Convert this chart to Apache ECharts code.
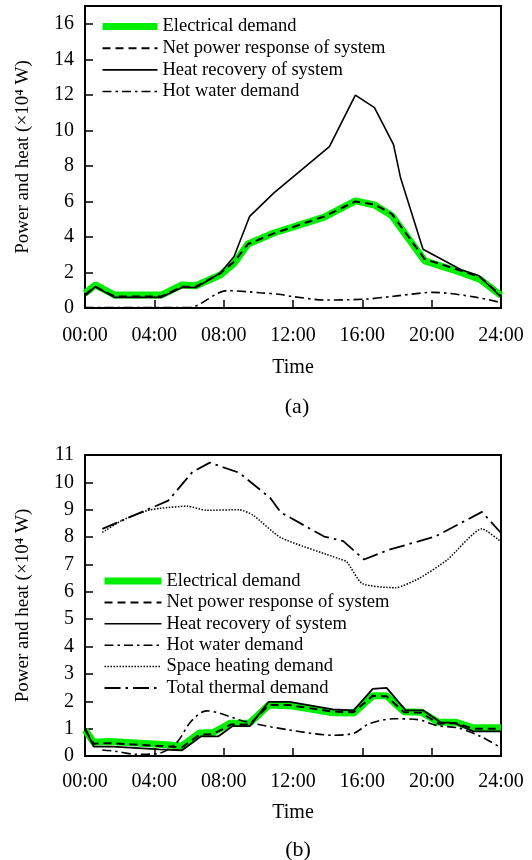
<!DOCTYPE html>
<html>
<head>
<meta charset="utf-8">
<script src="https://cdn.jsdelivr.net/npm/echarts@6/dist/echarts.min.js"></script>
<style>
  html, body { margin: 0; padding: 0; background: #fff; }
  #main { width: 532px; height: 860px; }
</style>
</head>
<body>
<div id="main"></div>
<script>
// tick labels shared by both panels
var timeLabels = ['00:00', '04:00', '08:00', '12:00', '16:00', '20:00', '24:00'];

// panel (a), [hour, x10^4 W]
var aElectrical = [[0, 0.83], [0.6, 1.3], [1.7, 0.73], [4.4, 0.73], [5.6, 1.3], [6.4, 1.25], [7.8, 1.86], [8.6, 2.5], [9.4, 3.6], [10.9, 4.22], [13.8, 5.12], [15.6, 6.03], [16.7, 5.8], [17.7, 5.2], [19.6, 2.65], [21.7, 2.0], [22.8, 1.6], [24, 0.7]];
var aNetPower = [[0, 0.75], [0.6, 1.2], [1.7, 0.65], [4.4, 0.65], [5.6, 1.2], [6.4, 1.2], [7.8, 1.95], [8.6, 2.6], [9.4, 3.6], [10.9, 4.2], [13.8, 5.15], [15.6, 6.0], [16.7, 5.82], [17.7, 5.3], [19.6, 2.75], [21.7, 2.1], [22.8, 1.75], [24, 0.68]];
var aHeatRecovery = [[0, 0.68], [0.6, 1.2], [1.7, 0.6], [4.4, 0.6], [5.6, 1.15], [6.4, 1.15], [7.8, 1.96], [8.6, 2.9], [9.5, 5.16], [10.9, 6.48], [14.1, 9.08], [15.6, 11.98], [16.7, 11.28], [17.8, 9.2], [18.2, 7.35], [19.5, 3.31], [21.7, 2.15], [22.7, 1.83], [24, 0.62]];
var aHotWater = [[0, 0.03], [6.0, 0.03], [8.2, 0.98], [10.1, 0.86], [11.3, 0.76], [12.0, 0.64], [13.9, 0.45], [16.2, 0.5], [17.8, 0.66], [20.1, 0.88], [22.6, 0.6], [24, 0.3]];

// panel (b)
var bElectrical = [[0, 0.95], [0.5, 0.5], [1.4, 0.53], [4.5, 0.42], [5.6, 0.37], [6.6, 0.84], [7.4, 0.86], [8.4, 1.2], [9.5, 1.2], [10.6, 1.86], [11.8, 1.84], [14.3, 1.58], [15.5, 1.57], [16.6, 2.2], [17.4, 2.2], [18.4, 1.62], [19.4, 1.6], [20.4, 1.23], [21.4, 1.23], [22.4, 1.03], [24, 1.03]];
var bNetPower = [[0, 0.95], [0.5, 0.45], [1.4, 0.47], [4.5, 0.36], [5.6, 0.32], [6.6, 0.78], [7.4, 0.8], [8.4, 1.15], [9.5, 1.15], [10.6, 1.86], [11.8, 1.86], [14.3, 1.62], [15.5, 1.6], [16.6, 2.2], [17.4, 2.18], [18.4, 1.6], [19.4, 1.58], [20.4, 1.18], [21.4, 1.2], [22.4, 1.0], [24, 1.0]];
var bHeatRecovery = [[0, 1.03], [0.5, 0.34], [1.6, 0.34], [4.3, 0.24], [5.6, 0.21], [6.7, 0.72], [7.7, 0.72], [8.5, 1.09], [9.5, 1.09], [10.6, 1.98], [11.8, 1.98], [14.3, 1.7], [15.5, 1.67], [16.6, 2.45], [17.4, 2.49], [18.5, 1.67], [19.5, 1.67], [20.5, 1.23], [21.3, 1.21], [22.4, 0.9], [24, 0.9]];
var bHotWater = [[1.0, 0.22], [1.7, 0.18], [3.0, 0.06], [4.3, 0.1], [5.3, 0.5], [6.1, 1.25], [7.0, 1.65], [9.3, 1.25], [11.8, 0.95], [14.3, 0.76], [15.5, 0.83], [16.4, 1.18], [17.8, 1.36], [19.2, 1.33], [20.3, 1.11], [21.5, 1.03], [22.8, 0.72], [24, 0.3]];
var bSpaceHeating = [[1.0, 8.17], [2.2, 8.63], [3.6, 8.97], [4.3, 9.05], [5.9, 9.13], [7.0, 8.98], [8.9, 9.0], [9.7, 8.8], [11.3, 7.98], [14.7, 7.2], [15.1, 7.1], [16.0, 6.3], [17.9, 6.15], [19.3, 6.5], [20.9, 7.17], [22.9, 8.3], [24, 7.83]];
var bTotalThermal = [[1.0, 8.3], [4.8, 9.33], [6.2, 10.38], [7.2, 10.72], [8.9, 10.35], [10.7, 9.42], [11.3, 8.9], [13.8, 8.02], [14.9, 7.85], [16.1, 7.18], [17.5, 7.53], [20.2, 8.02], [22.9, 8.92], [24, 8.15]];

var FONT = '"Liberation Serif", "Times New Roman", serif';
var GREEN = '#00ee00';
var yName = 'Power and heat (×10\u2074 W)';

var chart = echarts.init(document.getElementById('main'));

function xAxis(gi, margin, gap) {
  return {
    type: 'value', gridIndex: gi, min: 0, max: 24, interval: 4,
    name: 'Time', nameLocation: 'middle', nameGap: gap,
    nameTextStyle: { fontFamily: FONT, fontSize: 20, color: '#000' },
    axisLine: { lineStyle: { color: '#000', width: 2 } },
    axisTick: { inside: true, length: 8, lineStyle: { color: '#000', width: 1.5 } },
    axisLabel: {
      margin: margin, fontFamily: FONT, fontSize: 20, color: '#000',
      formatter: function (v) { return timeLabels[v / 4]; }
    },
    splitLine: { show: false }
  };
}

function yAxis(gi, max, step) {
  return {
    type: 'value', gridIndex: gi, min: 0, max: max, interval: step,
    name: yName, nameLocation: 'middle', nameGap: 52,
    nameTextStyle: { fontFamily: FONT, fontSize: 19, color: '#000' },
    axisLine: { lineStyle: { color: '#000', width: 2 } },
    axisTick: { inside: true, length: 8, lineStyle: { color: '#000', width: 1.5 } },
    axisLabel: { margin: 11, fontFamily: FONT, fontSize: 20, color: '#000', showMaxLabel: max % step === 0 },
    splitLine: { show: false }
  };
}

function line(name, data, gi, color, width, type, smooth, z) {
  return {
    name: name, type: 'line', xAxisIndex: gi, yAxisIndex: gi,
    data: data, symbol: 'none', smooth: smooth || false, z: z || 3,
    itemStyle: { color: color },
    lineStyle: { color: color, width: width, type: type },
    emphasis: { disabled: true }
  };
}

function legend(top, left, names, width, gap) {
  return {
    orient: 'vertical', top: top, left: left, padding: 0,
    itemWidth: width, itemHeight: 14, itemGap: gap,
    data: names, selectedMode: false,
    itemStyle: { opacity: 0 },
    lineStyle: { width: 'inherit' },
    textStyle: { fontFamily: FONT, fontSize: 18.5, lineHeight: 20, color: '#000' }
  };
}

var dashNet = [8, 5];
var dashWater = [9, 4, 2.5, 4];
var dashTotal = [16, 5, 2.5, 5];
var dotSpace = [1.5, 1.5];

chart.setOption({
  animation: false,
  backgroundColor: '#fff',
  grid: [
    { left: 85, top: 6, width: 416, height: 302, show: true, borderColor: '#000', borderWidth: 2 },
    { left: 85, top: 455, width: 416, height: 301, show: true, borderColor: '#000', borderWidth: 2 }
  ],
  xAxis: [xAxis(0, 18, 50), xAxis(1, 16, 47)],
  yAxis: [yAxis(0, 17, 2), yAxis(1, 11, 1)],
  legend: [
    legend(16.5, 99, ['Electrical demand', 'Net power response of system', 'Heat recovery of system', 'Hot water demand'], 55, 1.67),
    legend(571, 101, ['Electrical demand', 'Net power response of system', 'Heat recovery of system', 'Hot water demand', 'Space heating demand', 'Total thermal demand'], 57, 1.4)
  ],
  graphic: [
    { type: 'text', x: 297, y: 407, style: { text: '(a)', font: '22px ' + FONT, fill: '#000', textAlign: 'center', textVerticalAlign: 'middle' } },
    { type: 'text', x: 298, y: 850, style: { text: '(b)', font: '22px ' + FONT, fill: '#000', textAlign: 'center', textVerticalAlign: 'middle' } }
  ],
  series: [
    line('Electrical demand', aElectrical, 0, GREEN, 7, 'solid', false, 2),
    line('Net power response of system', aNetPower, 0, '#000', 2, dashNet),
    line('Heat recovery of system', aHeatRecovery, 0, '#000', 1.6, 'solid'),
    line('Hot water demand', aHotWater, 0, '#000', 1.6, dashWater, 0.3),

    line('Electrical demand', bElectrical, 1, GREEN, 7, 'solid', false, 2),
    line('Net power response of system', bNetPower, 1, '#000', 2, dashNet),
    line('Heat recovery of system', bHeatRecovery, 1, '#000', 1.8, 'solid'),
    line('Hot water demand', bHotWater, 1, '#000', 1.6, dashWater, 0.3),
    line('Space heating demand', bSpaceHeating, 1, '#000', 1.5, dotSpace, 0.2),
    line('Total thermal demand', bTotalThermal, 1, '#000', 1.8, dashTotal)
  ]
});
</script>
</body>
</html>
